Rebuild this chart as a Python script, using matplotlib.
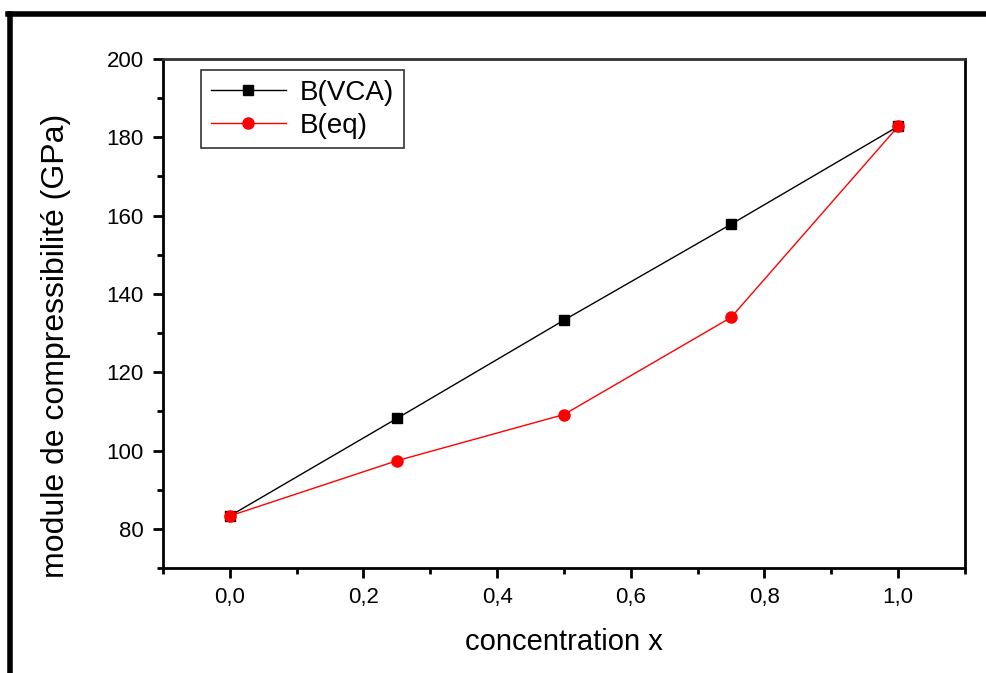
import matplotlib
matplotlib.use("Agg")
import matplotlib.pyplot as plt
from matplotlib.ticker import MultipleLocator, FuncFormatter
from matplotlib.lines import Line2D

plt.rcParams['font.family'] = ['Liberation Sans', 'DejaVu Sans']

x = [0.0, 0.25, 0.5, 0.75, 1.0]
b_vca = [83.3, 108.2, 133.3, 157.8, 182.8]
b_eq = [83.3, 97.4, 109.2, 134.0, 182.8]

fig = plt.figure(figsize=(9.87, 6.73), dpi=100)
ax = fig.add_axes([0.1651, 0.156, 0.8126, 0.7563])

ax.plot(x, b_vca, color='black', lw=1, marker='s', ms=7.5, mfc='black', mec='black', label="B(VCA)")
ax.plot(x, b_eq, color='red', lw=1, marker='o', ms=8, mfc='red', mec='red', label="B(eq)")

ax.set_xlim(-0.1, 1.1)
ax.set_ylim(70, 200)
ax.xaxis.set_major_locator(MultipleLocator(0.2))
ax.xaxis.set_minor_locator(MultipleLocator(0.1))
ax.yaxis.set_major_locator(MultipleLocator(20))
ax.yaxis.set_minor_locator(MultipleLocator(10))
ax.xaxis.set_major_formatter(FuncFormatter(lambda v, p: f"{v:.1f}".replace(".", ",")))
ax.tick_params(which='major', direction='out', length=7, width=2, labelsize=16, pad=7)
ax.tick_params(which='minor', direction='out', length=4, width=2)
ax.tick_params(top=False, right=False)
for s in ax.spines.values():
    s.set_linewidth(2)
ax.spines['top'].set_color('#333333')

ax.set_xlabel("concentration x", fontsize=21, labelpad=14)
ax.set_ylabel("module de compressibilité (GPa)", fontsize=23)
ax.yaxis.set_label_coords(-0.115, 0.436)

handles = [Line2D([], [], color='black', lw=1, marker='s', ms=7.5),
           Line2D([], [], color='red', lw=1, marker='o', ms=8)]
leg = ax.legend(handles, ["B(VCA)", "B(eq)"], loc='upper left', bbox_to_anchor=(0.037, 0.995),
                fontsize=20, frameon=True, fancybox=False, edgecolor='black',
                handlelength=2.7, borderpad=0.35, labelspacing=0.25, handletextpad=0.5,
                borderaxespad=0.3)
leg.get_frame().set_linewidth(1.2)

# outer frame of the screenshot
fig.add_artist(Line2D([8 / 987, 1.0], [1 - 14 / 673, 1 - 14 / 673], color='black', lw=4, transform=fig.transFigure))
fig.add_artist(Line2D([10 / 987, 10 / 987], [0, 1 - 14 / 673], color='black', lw=4, transform=fig.transFigure))

fig.savefig("out.png", dpi=100)
